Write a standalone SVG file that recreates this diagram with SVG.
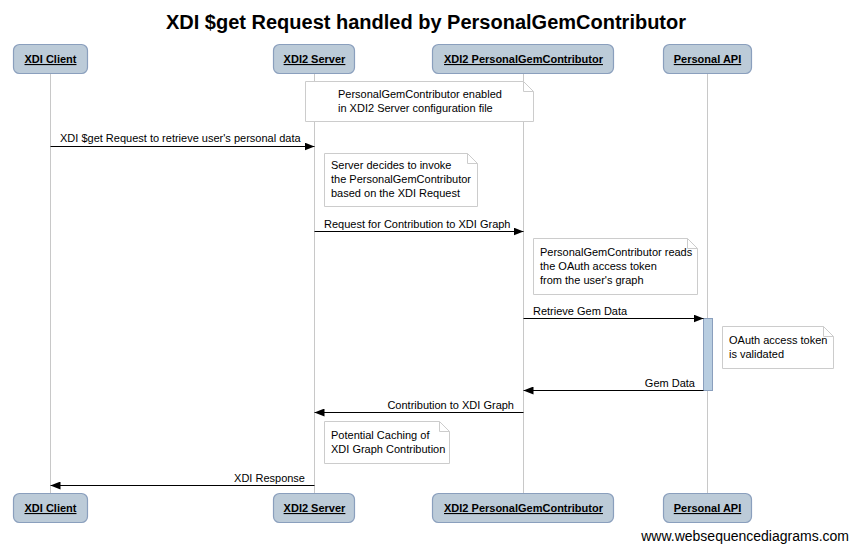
<svg xmlns="http://www.w3.org/2000/svg" width="851" height="545" viewBox="0 0 851 545">
<defs>
<marker id="ah" markerWidth="10" markerHeight="8" refX="10" refY="4" orient="auto" markerUnits="userSpaceOnUse">
<path d="M0,0 L10,4 L0,8 Z" fill="#000"/>
</marker>
<style>
text{font-family:"Liberation Sans",Arial,sans-serif;font-size:11px;fill:#000}
.title{font-size:20px;font-weight:bold}
.pbox{fill:#bccbd8;stroke:#8a9fbd;stroke-width:1.2}
.plabel{font-weight:bold;text-decoration:underline;text-anchor:middle}
.life{stroke:#c8c8c8;stroke-width:1}
.msg{stroke:#000;stroke-width:1;fill:none;marker-end:url(#ah)}
.note{fill:#fff;stroke:#cccccc;stroke-width:1}
.wm{font-size:14px;text-anchor:end}
</style>
</defs>
<text class="title" x="426" y="29" text-anchor="middle">XDI $get Request handled by PersonalGemContributor</text>
<g id="lifelines">
<line class="life" x1="50.5" y1="73" x2="50.5" y2="493"/>
<line class="life" x1="314.5" y1="73" x2="314.5" y2="493"/>
<line class="life" x1="523.5" y1="73" x2="523.5" y2="493"/>
<line class="life" x1="707.5" y1="73" x2="707.5" y2="493"/>
</g>
<g id="p-client"><rect class="pbox" x="13.5" y="44.5" width="74" height="29" rx="6"/><text class="plabel" x="50.5" y="63">XDI Client</text></g>
<g id="p-server"><rect class="pbox" x="273.5" y="44.5" width="81" height="29" rx="6"/><text class="plabel" x="314.5" y="63">XDI2 Server</text></g>
<g id="p-pgc"><rect class="pbox" x="432.5" y="44.5" width="181" height="29" rx="6"/><text class="plabel" x="523.5" y="63">XDI2 PersonalGemContributor</text></g>
<g id="p-api"><rect class="pbox" x="663.5" y="44.5" width="88" height="29" rx="6"/><text class="plabel" x="707.5" y="63">Personal API</text></g>
<g id="p-client-b"><rect class="pbox" x="13.5" y="493.5" width="74" height="29" rx="6"/><text class="plabel" x="50.5" y="512">XDI Client</text></g>
<g id="p-server-b"><rect class="pbox" x="273.5" y="493.5" width="81" height="29" rx="6"/><text class="plabel" x="314.5" y="512">XDI2 Server</text></g>
<g id="p-pgc-b"><rect class="pbox" x="432.5" y="493.5" width="181" height="29" rx="6"/><text class="plabel" x="523.5" y="512">XDI2 PersonalGemContributor</text></g>
<g id="p-api-b"><rect class="pbox" x="663.5" y="493.5" width="88" height="29" rx="6"/><text class="plabel" x="707.5" y="512">Personal API</text></g>
<g id="activation"><rect x="703.5" y="318.5" width="9" height="72" fill="#b8cde0" stroke="#8a9fbd" stroke-width="1"/></g>
<g id="note1"><path class="note" d="M305.5,81.5 H523.5 L533.5,91.5 V121.5 H305.5 Z"/><path d="M523.5,81.5 V91.5 H533.5" fill="none" stroke="#ccc"/><text x="338" y="98">PersonalGemContributor enabled</text><text x="338" y="112">in XDI2 Server configuration file</text></g>
<g id="note2"><path class="note" d="M324.5,153.5 H467.5 L477.5,163.5 V206.5 H324.5 Z"/><path d="M467.5,153.5 V163.5 H477.5" fill="none" stroke="#ccc"/><text x="331" y="169">Server decides to invoke</text><text x="331" y="183">the PersonalGemContributor</text><text x="331" y="197">based on the XDI Request</text></g>
<g id="note3"><path class="note" d="M533.5,238.5 H687.5 L697.5,248.5 V294.5 H533.5 Z"/><path d="M687.5,238.5 V248.5 H697.5" fill="none" stroke="#ccc"/><text x="540" y="256">PersonalGemContributor reads</text><text x="540" y="270">the OAuth access token</text><text x="540" y="284">from the user's graph</text></g>
<g id="note4"><path class="note" d="M722.5,326.5 H823.5 L833.5,336.5 V368.5 H722.5 Z"/><path d="M823.5,326.5 V336.5 H833.5" fill="none" stroke="#ccc"/><text x="729" y="344">OAuth access token</text><text x="729" y="358">is validated</text></g>
<g id="note5"><path class="note" d="M324.5,421.5 H439.5 L449.5,431.5 V463.5 H324.5 Z"/><path d="M439.5,421.5 V431.5 H449.5" fill="none" stroke="#ccc"/><text x="331" y="439">Potential Caching of</text><text x="331" y="453">XDI Graph Contribution</text></g>
<g id="connectors">
<line class="msg" x1="50.5" y1="146.5" x2="314.5" y2="146.5"/>
<text x="60" y="142">XDI $get Request to retrieve user's personal data</text>
<line class="msg" x1="314.5" y1="231.5" x2="523.5" y2="231.5"/>
<text x="324" y="228">Request for Contribution to XDI Graph</text>
<line class="msg" x1="523.5" y1="318.5" x2="703.5" y2="318.5"/>
<text x="533" y="315">Retrieve Gem Data</text>
<line class="msg" x1="703.5" y1="390.5" x2="523.5" y2="390.5"/>
<text x="695" y="387" text-anchor="end">Gem Data</text>
<line class="msg" x1="523.5" y1="412.5" x2="314.5" y2="412.5"/>
<text x="514" y="409" text-anchor="end">Contribution to XDI Graph</text>
<line class="msg" x1="314.5" y1="485.5" x2="50.5" y2="485.5"/>
<text x="305" y="482" text-anchor="end">XDI Response</text>
</g>
<text class="wm" x="849" y="541">www.websequencediagrams.com</text>
</svg>
